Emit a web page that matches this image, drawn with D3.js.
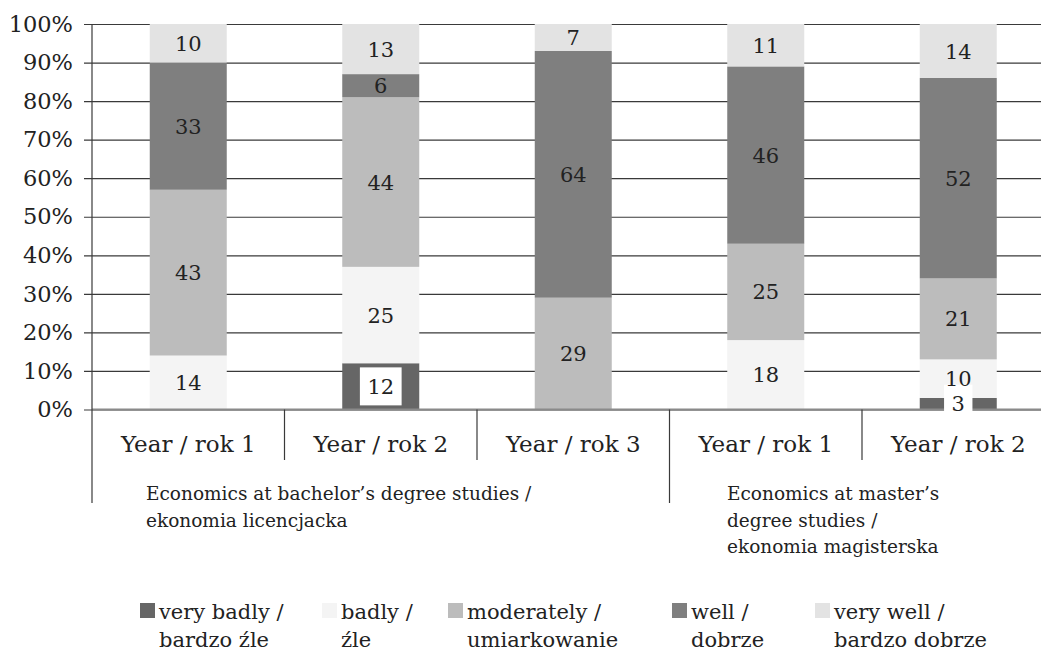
<!DOCTYPE html>
<html lang="en">
<head>
    <meta charset="UTF-8">
    <title>Stacked bars</title>
    <script src="https://cdn.jsdelivr.net/npm/d3@7"></script>
    <style>
        body { margin: 0; background: #fff; }
        text { font-family: "DejaVu Serif", serif; fill: #222; }
    </style>
</head>
<body>
<script type="text/javascript">
    var width = 1041;
    var height = 652;

    // data
    var categories = ["Year / rok 1", "Year / rok 2", "Year / rok 3", "Year / rok 1", "Year / rok 2"];
    var veryBadly = [0, 12, 0, 0, 3];
    var badly = [14, 25, 0, 18, 10];
    var moderately = [43, 44, 29, 25, 21];
    var well = [33, 6, 64, 46, 52];
    var veryWell = [10, 13, 7, 11, 14];
    var seriesNames = [["very badly /", "bardzo źle"], ["badly /", "źle"], ["moderately /", "umiarkowanie"],
        ["well /", "dobrze"], ["very well /", "bardzo dobrze"]];
    var groupLabels = [["Economics at bachelor’s degree studies /", "ekonomia licencjacka"],
        ["Economics at master’s", "degree studies /", "ekonomia magisterska"]];
    var groupSizes = [3, 2];
    var yTicks = [0, 10, 20, 30, 40, 50, 60, 70, 80, 90, 100];

    var colors = ["#666666", "#f4f4f4", "#bcbcbc", "#7f7f7f", "#e3e3e3"];
    var keys = ["veryBadly", "badly", "moderately", "well", "veryWell"];

    var rows = categories.map(function (c, i) {
        return {i: i, veryBadly: veryBadly[i], badly: badly[i], moderately: moderately[i], well: well[i], veryWell: veryWell[i]};
    });
    var stacked = d3.stack().keys(keys)(rows);

    var plot = {left: 92, right: 1054.5, top: 24, bottom: 409.5};

    var svg = d3.select('body').append('svg')
            .attr('width', width)
            .attr('height', height);

    var xScale = d3.scaleBand()
            .domain(d3.range(categories.length))
            .range([plot.left, plot.right])
            .padding(0);
    var barW = xScale.bandwidth() * 0.4;
    var yScale = d3.scaleLinear()
            .domain([0, 100])
            .range([plot.bottom, plot.top]);

    // gridlines + tick labels
    var yAxis = d3.axisLeft(yScale)
            .tickValues(yTicks)
            .tickSize(-(plot.right - plot.left))
            .tickPadding(19)
            .tickFormat(function (d) { return d + "%"; });
    var gy = svg.append("g")
            .attr("transform", "translate(" + plot.left + ",0)")
            .call(yAxis);
    gy.select(".domain").remove();
    gy.selectAll(".tick line").attr("stroke", "#3a3a3a").attr("stroke-width", 1.2)
            .attr("x1", -8);
    gy.selectAll(".tick text").attr("font-size", 22.5).attr("fill", "#222")
            .attr("font-family", "DejaVu Serif");

    // bars
    var layer = svg.selectAll(".layer")
            .data(stacked)
            .enter().append("g")
            .attr("class", "layer")
            .attr("fill", function (d, i) { return colors[i]; });
    layer.selectAll("rect")
            .data(function (d) { return d; })
            .enter().append("rect")
            .attr("x", function (d, i) { return xScale(i) + (xScale.bandwidth() - barW) / 2; })
            .attr("y", function (d) { return yScale(d[1]); })
            .attr("width", barW)
            .attr("height", function (d) { return yScale(d[0]) - yScale(d[1]); });

    // zero line
    svg.append("line")
            .attr("x1", plot.left).attr("x2", plot.right)
            .attr("y1", plot.bottom).attr("y2", plot.bottom)
            .attr("stroke", "#8a8a8a").attr("stroke-width", 2);

    // labels
    stacked.forEach(function (s, si) {
        s.forEach(function (d, i) {
            var v = d[1] - d[0];
            if (v <= 0) return;
            var cx = xScale(i) + xScale.bandwidth() / 2;
            var cy = (yScale(d[0]) + yScale(d[1])) / 2;
            var t = svg.append("text")
                    .attr("x", cx).attr("y", cy)
                    .attr("dy", "0.36em")
                    .attr("text-anchor", "middle")
                    .attr("font-size", 21)
                    .text(v);
            if (si === 0) {  // dark segment: label on a white box
                var w = t.node().getComputedTextLength();
                svg.insert("rect", function () { return t.node(); })
                        .attr("x", cx - w / 2 - 7.5).attr("y", cy - 19)
                        .attr("width", w + 15).attr("height", 38)
                        .attr("fill", "#fff");
            }
        });
    });

    // category axis
    svg.append("line")
            .attr("x1", plot.left).attr("x2", plot.left)
            .attr("y1", plot.top).attr("y2", 503)
            .attr("stroke", "#3a3a3a").attr("stroke-width", 1.2);
    var groupEnds = [];
    var acc = 0;
    groupSizes.forEach(function (n) { acc += n; groupEnds.push(acc); });
    d3.range(1, categories.length + 1).forEach(function (k) {
        var x = xScale(k - 1) + xScale.bandwidth();
        var isGroup = groupEnds.indexOf(k) >= 0;
        svg.append("line")
                .attr("x1", x).attr("x2", x)
                .attr("y1", plot.bottom).attr("y2", isGroup ? 503 : 460)
                .attr("stroke", "#3a3a3a").attr("stroke-width", 1.2);
    });
    svg.selectAll(".cat")
            .data(categories)
            .enter().append("text")
            .attr("class", "cat")
            .attr("x", function (d, i) { return xScale(i) + xScale.bandwidth() / 2; })
            .attr("y", 452)
            .attr("text-anchor", "middle")
            .attr("font-size", 23)
            .text(function (d) { return d; });

    var groupX = [146, 727];
    groupLabels.forEach(function (lines, g) {
        lines.forEach(function (line, j) {
            svg.append("text")
                    .attr("x", groupX[g])
                    .attr("y", 500 + j * 26.5)
                    .attr("font-size", 18.5)
                    .text(line);
        });
    });

    // legend
    var legendX = [140, 322, 448, 672, 815];
    seriesNames.forEach(function (lines, i) {
        var g = svg.append("g").attr("transform", "translate(" + legendX[i] + ",0)");
        g.append("rect")
                .attr("x", 0).attr("y", 603)
                .attr("width", 15).attr("height", 15)
                .attr("fill", colors[i]);
        lines.forEach(function (line, j) {
            g.append("text")
                    .attr("x", 19)
                    .attr("y", 619 + j * 28)
                    .attr("font-size", 21)
                    .text(line);
        });
    });
</script>
</body>
</html>
